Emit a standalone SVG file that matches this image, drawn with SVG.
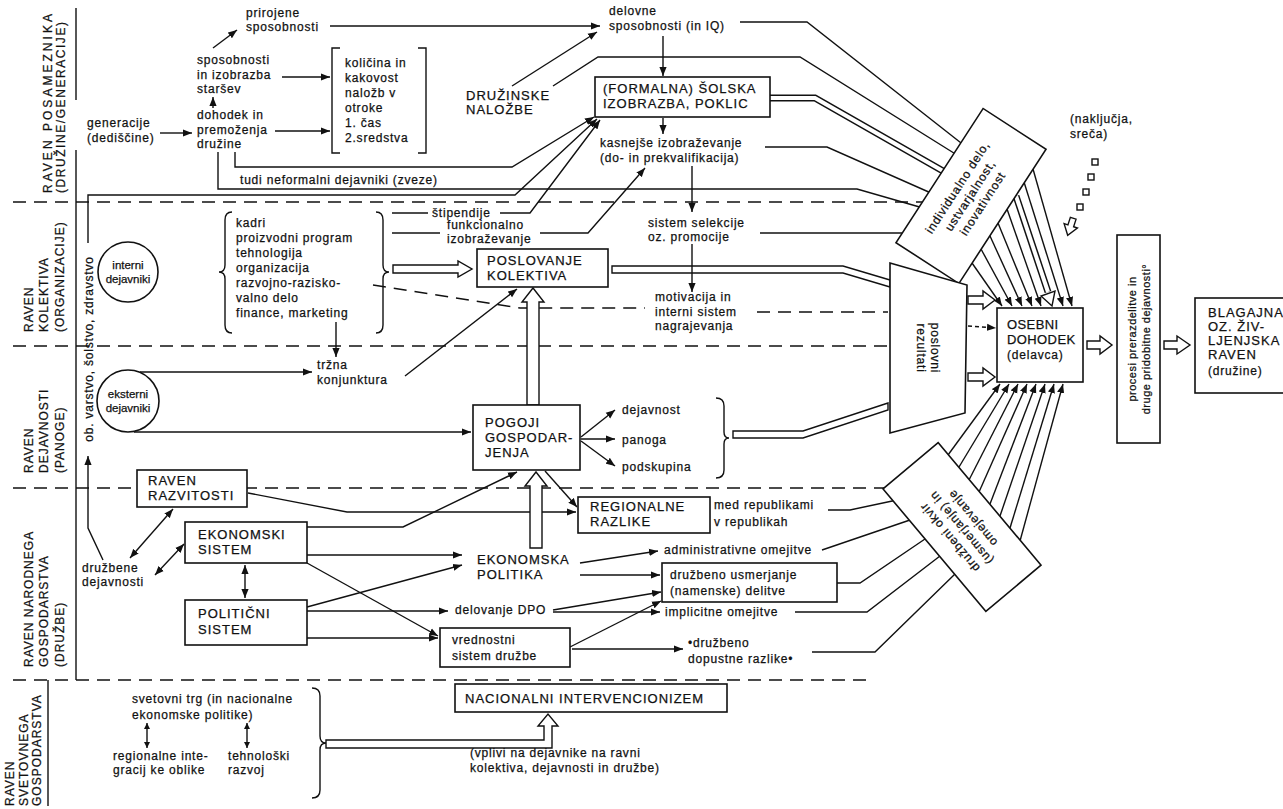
<svg xmlns="http://www.w3.org/2000/svg" width="1283" height="809" viewBox="0 0 1283 809">
<defs>
<marker id="ah" markerUnits="userSpaceOnUse" markerWidth="9" markerHeight="8" viewBox="0 0 10 8" refX="10" refY="4" orient="auto-start-reverse"><path d="M0,0 L10,4 L0,8 z" fill="#111"/></marker>
<marker id="sh" markerUnits="userSpaceOnUse" markerWidth="6" markerHeight="6" viewBox="0 0 10 10" refX="10" refY="5" orient="auto-start-reverse"><path d="M0,0 L10,5 L0,10 z" fill="#111"/></marker>
</defs>
<style>
text{font-family:"Liberation Sans",Arial,sans-serif;fill:#111;stroke:#111;stroke-width:0.25}
.s{font-size:12px;letter-spacing:0.8px}
.c{font-size:13px;letter-spacing:1px}
.L{font-size:12px;letter-spacing:1px}
.m{text-anchor:middle}
.ci{font-size:11.5px;text-anchor:middle}
.ln{fill:none;stroke:#111;stroke-width:1.4}
.a{marker-end:url(#ah)}
.ab{marker-start:url(#ah);marker-end:url(#ah)}
.sb{marker-start:url(#sh);marker-end:url(#sh)}
.d{stroke-dasharray:13 8}
.d2{stroke-dasharray:4 3}
.box{fill:#fff;stroke:#111;stroke-width:1.6}
.ho{fill:#fff;stroke:#111;stroke-width:1.4}
.dbo{fill:none;stroke:#111;stroke-width:7}
.dbi{fill:none;stroke:#fff;stroke-width:4}
</style>
<rect width="1283" height="809" fill="#fff"/>

<g id="levels">
<text class="L" textLength="180" lengthAdjust="spacing" transform="translate(52,193) rotate(-90)">RAVEN POSAMEZNIKA</text>
<text class="L" textLength="172" lengthAdjust="spacing" transform="translate(65,193) rotate(-90)">(DRUŽINE/GENERACIJE)</text>
<text class="L" transform="translate(33,332) rotate(-90)">RAVEN</text>
<text class="L" transform="translate(48,332) rotate(-90)">KOLEKTIVA</text>
<text class="L" transform="translate(64,332) rotate(-90)">(ORGANIZACIJE)</text>
<text class="L" transform="translate(33,473) rotate(-90)">RAVEN</text>
<text class="L" transform="translate(48,473) rotate(-90)">DEJAVNOSTI</text>
<text class="L" transform="translate(64,473) rotate(-90)">(PANOGE)</text>
<text class="L" transform="translate(33,667) rotate(-90)">RAVEN NARODNEGA</text>
<text class="L" transform="translate(48,667) rotate(-90)">GOSPODARSTVA</text>
<text class="L" transform="translate(64,667) rotate(-90)">(DRUŽBE)</text>
<text class="L" transform="translate(14,806) rotate(-90)">RAVEN</text>
<text class="L" transform="translate(28,806) rotate(-90)">SVETOVNEGA</text>
<text class="L" transform="translate(41,806) rotate(-90)">GOSPODARSTVA</text>
<path class="ln" d="M76,8 V100 M76,150 V680 M48,680 V806"/>
</g>

<g id="connectors">
<path class="ln a" d="M213,48 L237,30"/>
<path class="ln a" d="M213,108 V97"/>
<path class="ln a" d="M160,133 H192"/>
<path class="ln a" d="M282,77 H330"/>
<path class="ln a" d="M275,131 H330"/>
<path class="ln a" d="M330,26 H600"/>
<path class="ln a" d="M512,86 L597,32"/>
<path class="ln" d="M553,86 L598,57 H800 L965,160"/>
<path class="ln a" d="M663,36 V76"/>
<path class="ln a" d="M663,118 V134"/>
<path class="ln" d="M740,22 H807 L970,150"/>
<path class="dbo" d="M765,98 H815 L950,175"/>
<path class="dbi" d="M765,98 H815 L950,175"/>
<path class="ln" d="M765,147 H827 L940,197"/>
<path class="ln a" d="M692,166 V212"/>
<path class="ln a" d="M235,152 V167 H512 L594,117"/>
<path class="ln" d="M218,152 V189 H857 L930,210"/>
<path class="ln a" d="M88,243 V195 H515 L597,119"/>
<path class="ln d" d="M13,202 H925"/>
<path class="ln" d="M760,233 H912"/>
<path class="ln" d="M392,213 H428"/>
<path class="ln a" d="M500,213 H530 L600,120"/>
<path class="ln" d="M392,233 H440"/>
<path class="ln a" d="M540,233 H588 L645,168"/>

<polygon class="ho" points="393,265 458,265 458,261 472,269 458,277 458,273 393,273"/>
<path class="ho" d="M890,280 L843,266 H612 V273 H843 L890,287 Z"/>
<path class="ln a" d="M692,244 V292"/>
<path class="ln d" d="M373,285 L520,308 H645 M757,312 H888"/>
<path class="ln d" d="M13,346 H888"/>
<path class="ln a" d="M336,322 V357"/>
<path class="ln a" d="M140,372 H312"/>
<path class="ln a" d="M405,376 L517,289"/>
<path class="ln a" d="M134,432 H471"/>
<polygon class="ho" points="527,405 527,302 522,302 533,288 544,302 539,302 539,405"/>
<path class="ln a" d="M581,437 L615,410"/>
<path class="ln a" d="M581,439 H615"/>
<path class="ln a" d="M581,441 L615,466"/>
<path class="ho" d="M888,403 L803,431 H733 V438 H803 L888,410 Z"/>

<polygon class="ho" points="968,296 983,296 983,291 995,300 983,309 983,304 968,304"/>
<polygon class="ho" points="968,373 983,373 983,368 995,377 983,386 983,381 968,381"/>
<path class="ln d2 a" d="M968,326 L996,328"/>
<polygon class="ho" points="1087,341 1100,341 1100,336 1112,345 1100,354 1100,349 1087,349"/>
<polygon class="ho" points="1164,341 1177,341 1177,336 1190,345 1177,354 1177,349 1164,349"/>

<path class="ln a" d="M1033,169 L1072,306"/>
<path class="ln a" d="M1024,182 L1063,306"/>
<path class="dbo" d="M1016,196 L1048,292"/>
<path class="dbi" d="M1016,196 L1048,292"/>
<polygon class="ho" points="1041,296 1052,306 1055,291"/>
<path class="ln a" d="M1007,209 L1041,306"/>
<path class="ln a" d="M998,223 L1032,306"/>
<path class="ln a" d="M990,236 L1022,306"/>
<path class="ln a" d="M981,249 L1012,306"/>
<path class="ln a" d="M972,263 L1002,306"/>

<path class="ln a" d="M948,455 L1000,384"/>
<path class="ln a" d="M959,467 L1009,384"/>
<path class="ln a" d="M969,480 L1018,384"/>
<path class="ln a" d="M979,492 L1027,384"/>
<path class="ln a" d="M990,504 L1036,384"/>
<path class="ln a" d="M1000,516 L1045,384"/>
<path class="ln a" d="M1010,528 L1054,384"/>
<path class="ln a" d="M1020,541 L1063,384"/>

<path class="ln d" d="M13,488 H885"/>
<path class="ln" d="M828,510 H850 L897,500"/>
<path class="ln" d="M822,550 L910,520"/>
<path class="ln" d="M837,583 H860 L925,539"/>
<path class="ln" d="M795,612 H867 L940,556"/>
<path class="ln" d="M812,652 H875 L955,574"/>

<path class="ln a" d="M248,493 L347,512 H576"/>
<path class="ln a" d="M307,527 H403 L517,472"/>
<path class="ln a" d="M307,555 H462"/>
<path class="ln a" d="M307,563 L438,636"/>
<path class="ln a" d="M307,607 L462,565"/>
<path class="ln a" d="M307,611 H448"/>
<path class="ln a" d="M307,638 H438"/>
<path class="ln a" d="M545,471 L577,507"/>
<polygon class="ho" points="530,548 530,486 525,486 536,472 547,486 542,486 542,548"/>
<path class="ln a" d="M580,563 L658,551"/>
<path class="ln a" d="M580,575 H660"/>
<path class="ln a" d="M553,610 L661,592"/>
<path class="ln a" d="M553,612 H660"/>
<path class="ln a" d="M570,647 L661,601"/>
<path class="ln a" d="M572,649 H683"/>
<path class="ln ab" d="M245,565 V598"/>
<path class="ln ab" d="M173,509 L130,558"/>
<path class="ln ab" d="M155,575 L184,544"/>
<path class="ln a" d="M103,560 L88,528 V456"/>

<path class="ln d" d="M13,680 H870"/>
<path class="ln sb" d="M147,723 V748"/>
<path class="ln sb" d="M247,723 V748"/>
<path class="ho" d="M326,740 H544 V726 H538 L548,714 L558,726 H552 V748 H326 Z"/>

<rect class="ho" x="1092" y="159" width="6" height="6"/>
<rect class="ho" x="1088" y="174" width="6" height="6"/>
<rect class="ho" x="1083" y="189" width="6" height="6"/>
<rect class="ho" x="1077" y="204" width="6" height="6"/>
<g transform="translate(1072,222) rotate(108)"><polygon class="ho" points="-4,-3 4,-3 4,-7 14,0 4,7 4,3 -4,3"/></g>
</g>

<g id="n-prirojene"><text class="s" x="246" y="17">prirojene</text><text class="s" x="246" y="31">sposobnosti</text></g>
<g id="n-sposobnosti"><text class="s" x="197" y="64">sposobnosti</text><text class="s" x="197" y="79">in izobrazba</text><text class="s" x="197" y="93">staršev</text></g>
<g id="n-dohodek"><text class="s" x="197" y="119">dohodek in</text><text class="s" x="197" y="134">premoženja</text><text class="s" x="197" y="148">družine</text></g>
<g id="n-generacije"><text class="s" x="87" y="127">generacije</text><text class="s" x="87" y="142">(dediščine)</text></g>
<g id="n-kolicina">
<path class="ln" d="M340,48 H332 V153 H340 M418,48 H426 V153 H418"/>
<text class="s" x="345" y="67">količina in</text><text class="s" x="345" y="82">kakovost</text><text class="s" x="345" y="97">naložb v</text><text class="s" x="345" y="112">otroke</text><text class="s" x="345" y="127">1. čas</text><text class="s" x="345" y="142">2.sredstva</text>
</g>
<g id="n-druzinske"><text class="c" x="466" y="100">DRUŽINSKE</text><text class="c" x="466" y="114">NALOŽBE</text></g>
<g id="n-delovne"><text class="s" x="609" y="15">delovne</text><text class="s" x="609" y="30">sposobnosti (in IQ)</text></g>
<g id="n-formalna"><rect class="box" x="595" y="77" width="175" height="40"/><text class="c" x="603" y="93">(FORMALNA) ŠOLSKA</text><text class="c" x="603" y="108">IZOBRAZBA, POKLIC</text></g>
<g id="n-kasnejse"><text class="s" x="600" y="147">kasnejše izobraževanje</text><text class="s" x="600" y="162">(do- in prekvalifikacija)</text></g>
<g id="n-tudi"><text class="s" x="240" y="184">tudi neformalni dejavniki (zveze)</text></g>
<g id="n-obvarstvo"><text class="s m" transform="translate(93,349) rotate(-90)">ob. varstvo, šolstvo, zdravstvo</text></g>

<g id="n-interni"><circle class="box" cx="128" cy="272" r="30"/><text class="ci" x="128" y="269">interni</text><text class="ci" x="128" y="283">dejavniki</text></g>
<g id="n-kadri">
<path class="ln" d="M232,212 Q225,212 225,220 V265 Q225,272 219,272 Q225,272 225,279 V325 Q225,333 232,333"/>
<path class="ln" d="M376,212 Q383,212 383,220 V265 Q383,272 389,272 Q383,272 383,279 V325 Q383,333 376,333"/>
<text class="s" x="236" y="227">kadri</text><text class="s" x="236" y="242">proizvodni program</text><text class="s" x="236" y="257">tehnologija</text><text class="s" x="236" y="272">organizacija</text><text class="s" x="236" y="287">razvojno-razisko-</text><text class="s" x="236" y="302">valno delo</text><text class="s" x="236" y="317">finance, marketing</text>
</g>
<g id="n-stipendije"><text class="s" x="432" y="217">štipendije</text><text class="s" x="447" y="229">funkcionalno</text><text class="s" x="447" y="243">izobraževanje</text></g>
<g id="n-poslovanje"><rect class="box" x="477" y="249" width="131" height="38"/><text class="c" x="487" y="265">POSLOVANJE</text><text class="c" x="487" y="280">KOLEKTIVA</text></g>
<g id="n-sistem"><text class="s" x="648" y="227">sistem selekcije</text><text class="s" x="648" y="241">oz. promocije</text></g>
<g id="n-motivacija"><text class="s" x="655" y="301">motivacija in</text><text class="s" x="655" y="316">interni sistem</text><text class="s" x="655" y="330">nagrajevanja</text></g>
<g id="n-trzna"><text class="s" x="317" y="369">tržna</text><text class="s" x="317" y="384">konjunktura</text></g>
<g id="n-eksterni"><circle class="box" cx="128" cy="401" r="31"/><text class="ci" x="128" y="398">eksterni</text><text class="ci" x="128" y="412">dejavniki</text></g>
<g id="n-pogoji"><rect class="box" x="473" y="405" width="107" height="65"/><text class="c" x="485" y="427">POGOJI</text><text class="c" x="485" y="442">GOSPODAR-</text><text class="c" x="485" y="457">JENJA</text></g>
<g id="n-dejavnost">
<text class="s" x="622" y="414">dejavnost</text><text class="s" x="622" y="444">panoga</text><text class="s" x="622" y="471">podskupina</text>
<path class="ln" d="M716,398 Q724,398 724,406 V432 Q724,438 729,438 Q724,438 724,444 V470 Q724,478 716,478"/>
</g>

<g id="n-individualno" transform="translate(971,196) rotate(-57)"><rect class="box" x="-80" y="-37.5" width="160" height="75"/><text class="s m" y="-12">individualno delo,</text><text class="s m" y="3">ustvarjalnost,</text><text class="s m" y="18">inovativnost</text></g>
<g id="n-poslovni"><polygon class="box" points="890,263 967,285 965,413 890,433"/><text class="s m" transform="translate(931,348) rotate(90)">poslovni</text><text class="s m" transform="translate(917,348) rotate(90)">rezultati</text></g>
<g id="n-okvir" transform="translate(962,527) rotate(50)"><rect class="box" x="-80" y="-36" width="160" height="72"/><g transform="rotate(180)"><text class="s m" y="-12">družbeni okvir</text><text class="s m" y="3">(usmerjanje) in</text><text class="s m" y="18">omejevanje</text></g></g>
<g id="n-osebni"><rect class="box" x="997" y="308" width="86" height="74"/><text class="c" style="letter-spacing:0.4px" x="1007" y="329">OSEBNI</text><text class="c" style="letter-spacing:0.4px" x="1007" y="344">DOHODEK</text><text class="s" x="1007" y="359">(delavca)</text></g>
<g id="n-procesi"><rect class="box" x="1117" y="235" width="43" height="208"/><text class="s m" style="font-size:11px;letter-spacing:0.5px" transform="translate(1136,339) rotate(-90)">procesi prerazdelitve in</text><text class="s m" style="font-size:11px;letter-spacing:0.5px" transform="translate(1150,339) rotate(-90)">druge pridobitne dejavnosti°</text></g>
<g id="n-blagajna"><rect class="box" x="1195" y="298" width="100" height="95"/><text class="c" x="1208" y="317">BLAGAJNA</text><text class="c" x="1208" y="331">OZ. ŽIV-</text><text class="c" x="1208" y="345">LJENJSKA</text><text class="c" x="1208" y="359">RAVEN</text><text class="s" x="1208" y="375">(družine)</text></g>
<g id="n-nakljucja"><text class="s" x="1070" y="123">(naključja,</text><text class="s" x="1070" y="138">sreča)</text></g>

<g id="n-razvitost"><rect class="box" x="137" y="470" width="110" height="37"/><text class="c" x="148" y="485">RAVEN</text><text class="c" x="148" y="500">RAZVITOSTI</text></g>
<g id="n-ekonomski"><rect class="box" x="185" y="522" width="122" height="41"/><text class="c" x="198" y="539">EKONOMSKI</text><text class="c" x="198" y="554">SISTEM</text></g>
<g id="n-politicni"><rect class="box" x="185" y="600" width="122" height="45"/><text class="c" x="198" y="618">POLITIČNI</text><text class="c" x="198" y="634">SISTEM</text></g>
<g id="n-druzbene"><text class="s" x="82" y="572">družbene</text><text class="s" x="82" y="586">dejavnosti</text></g>
<g id="n-regionalne"><rect class="box" x="578" y="497" width="132" height="36"/><text class="c" x="590" y="511">REGIONALNE</text><text class="c" x="590" y="526">RAZLIKE</text></g>
<g id="n-republike"><text class="s" x="714" y="509">med republikami</text><text class="s" x="714" y="526">v republikah</text></g>
<g id="n-ekpolitika"><text class="c" x="477" y="564">EKONOMSKA</text><text class="c" x="477" y="579">POLITIKA</text></g>
<g id="n-admin"><text class="s" x="664" y="554">administrativne omejitve</text></g>
<g id="n-usmerjanje"><rect class="box" x="662" y="563" width="175" height="39"/><text class="s" x="670" y="579">družbeno usmerjanje</text><text class="s" x="670" y="595">(namenske) delitve</text></g>
<g id="n-dpo"><text class="s" x="455" y="614">delovanje DPO</text></g>
<g id="n-implicitne"><text class="s" x="665" y="616">implicitne omejitve</text></g>
<g id="n-vrednostni"><rect class="box" x="440" y="628" width="130" height="39"/><text class="s" x="452" y="644">vrednostni</text><text class="s" x="452" y="660">sistem družbe</text></g>
<g id="n-dopustne"><text class="s" x="688" y="647">•družbeno</text><text class="s" x="688" y="663">dopustne razlike•</text></g>

<g id="n-svetovni"><text class="s" x="132" y="703">svetovni trg (in nacionalne</text><text class="s" x="132" y="719">ekonomske politike)</text><text class="s" x="113" y="760">regionalne inte-</text><text class="s" x="113" y="774">gracij ke oblike</text><text class="s" x="228" y="760">tehnološki</text><text class="s" x="228" y="774">razvoj</text>
<path class="ln" d="M312,688 Q320,688 320,696 V736 Q320,743 326,743 Q320,743 320,750 V790 Q320,798 312,798"/></g>
<g id="n-nacionalni"><rect class="box" x="455" y="684" width="272" height="28"/><text class="c" x="465" y="703">NACIONALNI INTERVENCIONIZEM</text></g>
<g id="n-vplivi"><text class="s" x="470" y="757">(vplivi na dejavnike na ravni</text><text class="s" x="470" y="772">kolektiva, dejavnosti in družbe)</text></g>
</svg>
